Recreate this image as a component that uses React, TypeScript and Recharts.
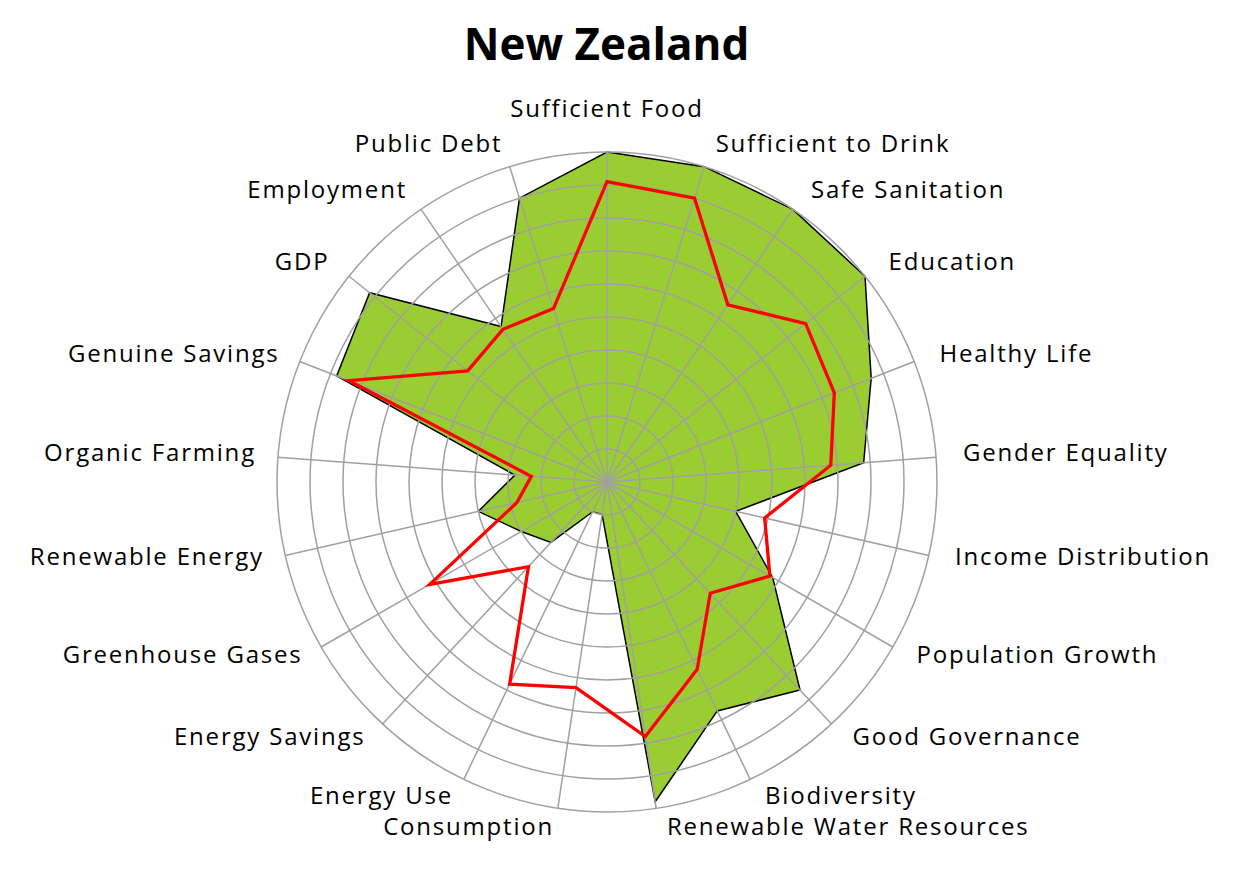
import { PolarAngleAxis, PolarGrid, PolarRadiusAxis, Radar, RadarChart } from "recharts";

const categories = [
  "Sufficient Food",
  "Sufficient to Drink",
  "Safe Sanitation",
  "Education",
  "Healthy Life",
  "Gender Equality",
  "Income Distribution",
  "Population Growth",
  "Good Governance",
  "Biodiversity",
  "Renewable Water Resources",
  "Consumption",
  "Energy Use",
  "Energy Savings",
  "Greenhouse Gases",
  "Renewable Energy",
  "Organic Farming",
  "Genuine Savings",
  "GDP",
  "Employment",
  "Public Debt",
];

// green area
const newZealand = [
  1.0, 1.0, 1.0, 1.0, 0.86, 0.78, 0.4, 0.58, 0.86, 0.77, 0.98, 0.1, 0.1, 0.25,
  0.3, 0.4, 0.28, 0.88, 0.92, 0.57, 0.9,
];

// red line
const benchmark = [
  0.91, 0.9, 0.65, 0.77, 0.74, 0.68, 0.49, 0.57, 0.46, 0.63, 0.78, 0.63, 0.68,
  0.35, 0.62, 0.28, 0.23, 0.84, 0.54, 0.56, 0.55,
];

// radius axis ticks (one grid ring each, labels hidden)
const radiusTicks = [0, 0.1, 0.2, 0.3, 0.4, 0.5, 0.6, 0.7, 0.8, 0.9, 1.0];

const data = categories.map((name, i) => ({
  name,
  nz: newZealand[i],
  bench: benchmark[i],
}));

const W = 1243;
const H = 869;
const CX = 607;
const CY = 482;
const R = 330;
const LABEL_R = 355;

const AngleLabel = (props: any) => {
  const { x, y, payload } = props;
  const a = Math.atan2(CY - y, x - CX);
  const c = Math.cos(a);
  const s = Math.sin(a);
  let lx = CX + LABEL_R * c;
  let ly = CY - LABEL_R * s;
  if (s < 0) ly -= 5 + 3 * Math.abs(s);
  else if (s < 0.2) ly -= 4;
  if (Math.abs(c) < 0.1) ly -= 20 * Math.sign(s);
  if (c > 0.1) lx += c < 0.2 ? 7 : c > 0.8 ? 2 : 4;
  if (c < -0.8) lx += 3;
  const anchor = c > 0.1 ? "start" : c < -0.1 ? "end" : "middle";
  return (
    <text
      x={lx}
      y={ly}
      textAnchor={anchor}
      dominantBaseline="central"
      fontFamily="'Open Sans', sans-serif"
      fontSize={24}
      letterSpacing={1.8}
      fill="#000"
    >
      {payload.value}
    </text>
  );
};

const EmptyTick = () => <g />;

const layer = { position: "absolute" as const, left: 0, top: 0 };
const margin = { top: 0, right: 0, bottom: 0, left: 0 };

const Axes = ({ labels }: { labels: boolean }) => (
  <>
    <PolarAngleAxis
      dataKey="name"
      tick={labels ? <AngleLabel /> : false}
      axisLine={false}
      tickLine={false}
    />
    <PolarRadiusAxis
      domain={[0, 1]}
      ticks={radiusTicks as any}
      tickCount={11}
      tick={<EmptyTick />}
      axisLine={false}
    />
  </>
);

export default function App() {
  return (
    <div style={{ position: "absolute", left: 0, top: 0, width: W, height: H, background: "#fff" }}>
      <div
        style={{
          position: "absolute",
          left: 0,
          top: 21,
          width: 1213,
          textAlign: "center",
          fontFamily: "'Open Sans', sans-serif",
          fontWeight: 700,
          fontSize: 44,
          lineHeight: 1,
          color: "#000",
        }}
      >
        New Zealand
      </div>

      {/* green area, below the grid */}
      <div style={layer}>
        <RadarChart width={W} height={H} data={data} cx={CX} cy={CY} outerRadius={R} margin={margin}>
          {Axes({ labels: false })}
          <Radar
            dataKey="nz"
            stroke="#000"
            strokeWidth={1.5}
            fill="#9ACD32"
            fillOpacity={1}
            dot={false}
            isAnimationActive={false}
          />
        </RadarChart>
      </div>

      {/* grid and labels */}
      <div style={layer}>
        <RadarChart width={W} height={H} data={data} cx={CX} cy={CY} outerRadius={R} margin={margin}>
          <PolarGrid gridType="circle" stroke="#A0A0A0" strokeWidth={1.5} />
          {Axes({ labels: true })}
          <Radar
            dataKey="nz"
            stroke="none"
            fill="none"
            fillOpacity={0}
            dot={false}
            isAnimationActive={false}
          />
        </RadarChart>
      </div>

      {/* red line on top */}
      <div style={layer}>
        <RadarChart width={W} height={H} data={data} cx={CX} cy={CY} outerRadius={R} margin={margin}>
          {Axes({ labels: false })}
          <Radar
            dataKey="bench"
            stroke="#FF0000"
            strokeWidth={3.3}
            fill="none"
            fillOpacity={0}
            dot={false}
            isAnimationActive={false}
          />
        </RadarChart>
      </div>
    </div>
  );
}
